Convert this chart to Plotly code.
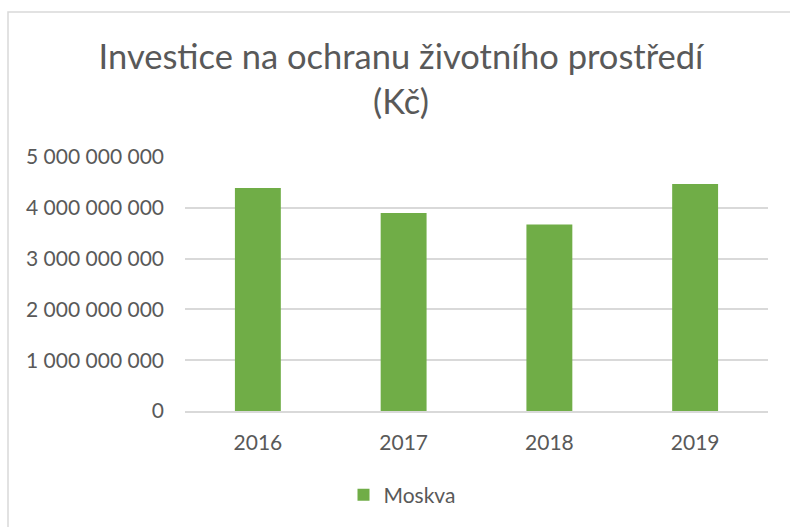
import plotly.graph_objects as go

# Investment in environmental protection, Moscow (CZK)
years = ["2016", "2017", "2018", "2019"]
moskva = [4390000000, 3900000000, 3670000000, 4470000000]
y_ticks = [0, 1000000000, 2000000000, 3000000000, 4000000000, 5000000000]

W, H = 790, 527
PL, PR, PT, PB = 185, 768, 157, 411  # plot area in pixels

GREEN = "#70AD47"
TEXT = "#595959"
GRID = "#D9D9D9"
FONT = "Lato"

fig = go.Figure(
    go.Bar(
        x=years,
        y=moskva,
        name="Moskva",
        marker=dict(color=GREEN, line=dict(width=0)),
    )
)

def px_x(p):
    return (p - PL) / (PR - PL)

def px_y(p):
    return (PB - p) / (PB - PT)

fig.update_layout(
    width=W,
    height=H,
    margin=dict(l=PL, r=W - PR, t=PT, b=H - PB, pad=0),
    paper_bgcolor="white",
    plot_bgcolor="white",
    separators=", ",
    bargap=0.685,
    font=dict(family=FONT, color=TEXT, size=21),
    title=dict(
        text="Investice na ochranu životního prostředí<br>(Kč)",
        x=401 / W,
        xref="container",
        xanchor="center",
        y=1 - 69 / H,
        yref="container",
        yanchor="top",
        font=dict(family=FONT, size=34.5, color=TEXT),
    ),
    showlegend=True,
    legend=dict(
        orientation="h",
        x=px_x(402),
        xanchor="center",
        y=px_y(495),
        yanchor="middle",
        font=dict(family=FONT, size=21, color=TEXT),
        itemwidth=30,
    ),
    xaxis=dict(
        showgrid=False,
        showline=True,
        linecolor=GRID,
        linewidth=1.5,
        ticks="",
        ticklabelstandoff=12,
        tickfont=dict(family=FONT, size=21, color=TEXT),
    ),
    yaxis=dict(
        range=[0, 5000000000],
        tickvals=y_ticks,
        tickformat=",d",
        showgrid=True,
        gridcolor=GRID,
        gridwidth=1.5,
        zeroline=False,
        showline=False,
        ticks="",
        ticklabelstandoff=20,
        tickfont=dict(family=FONT, size=21, color=TEXT),
    ),
    shapes=[
        dict(
            type="rect",
            xref="paper",
            yref="paper",
            x0=px_x(8),
            x1=px_x(820),
            y0=px_y(560),
            y1=px_y(12),
            line=dict(color=GRID, width=1.5),
            fillcolor="rgba(0,0,0,0)",
            layer="below",
        )
    ],
)

fig.write_html("out.html")
